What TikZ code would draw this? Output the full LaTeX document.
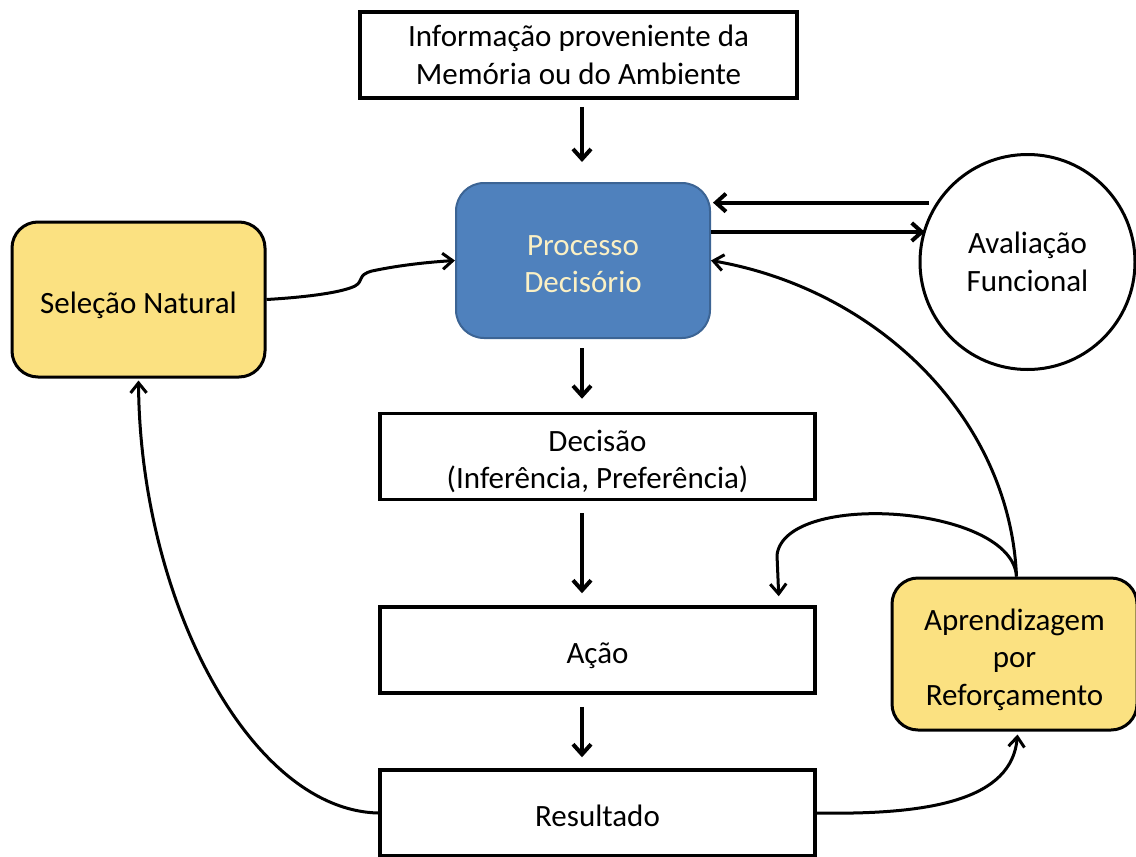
\documentclass[tikz,border=0pt]{standalone}
\usepackage{fontspec}
\setmainfont{Carlito}
\usetikzlibrary{arrows.meta,calc}
\definecolor{procfill}{HTML}{4F81BD}
\definecolor{procline}{HTML}{3C6494}
\definecolor{proctext}{HTML}{FBF0C4}
\definecolor{goldfill}{HTML}{FBE181}
\newcommand{\lift}[1]{\rule{0pt}{#1}}
\begin{document}
\begin{tikzpicture}[x=1pt,y=-1pt,
  txt/.style={font=\fontsize{31}{37.5}\selectfont, align=center, inner sep=0pt},
  oneline/.style={text height=27pt, text depth=0pt},
  box/.style={txt, draw, line width=3.5pt, minimum width=435pt, minimum height=86pt},
  rbox/.style={txt, draw, line width=3pt, rounded corners=26pt, fill=goldfill},
  arr/.style={line width=4pt, -{Straight Barb[length=10pt,width=18pt]}},
  carr/.style={line width=3pt, -{Straight Barb[length=10pt,width=16pt]}}]
\useasboundingbox (0,0) rectangle (1136,857);

% nodes
\node[box, minimum width=437pt] (info) at (578.5,55) {Informação proveniente da\\Memória ou do Ambiente};
\node[txt, draw=procline, line width=2pt, fill=procfill, text=proctext,
      rounded corners=28pt, minimum width=254pt, minimum height=155pt] (proc) at (583,260.5) {\lift{27pt}Processo\\Decisório};
\node[txt, draw, circle, line width=3pt, minimum size=215pt] (aval) at (1027.5,262) {Avaliação\\Funcional};
\node[rbox, oneline, minimum width=253pt, minimum height=155pt] (sel) at (138.5,299.5) {Seleção Natural};
\node[box] (dec) at (597.5,456.5) {\lift{31pt}Decisão\\(Inferência, Preferência)};
\node[box, oneline] (acao) at (597.5,650) {Ação};
\node[box, oneline] (res) at (597.5,813) {Resultado};
\node[rbox, minimum width=245pt, minimum height=152pt] (appr) at (1014.5,654) {\lift{33pt}Aprendizagem\\por\\Reforçamento};

% straight connectors down the middle
\draw[arr] ($(info.south -| proc.south)+(-1,7)$) -- ($(proc.north)+(-1,-20)$);
\draw[arr] ($(proc.south)+(-1,9)$) -- ($(dec.north -| proc.south)+(-1,-13)$);
\draw[arr] ($(dec.south -| proc.south)+(-1,12)$) -- ($(acao.north -| proc.south)+(-1,-12)$);
\draw[arr] ($(acao.south -| proc.south)+(-1,12)$) -- ($(res.north -| proc.south)+(-1,-11)$);

% exchange with the evaluation circle
\draw[arr] ($(aval.147)+(-7,0)$) -- ($(aval.147 -| proc.east)+(2,0)$);
\draw[arr] (proc.east |- aval.164) -- ($(aval.164)+(2,0)$);

% curved feedback connectors
\draw[carr] (sel.east) .. controls (310,297) and (343,292) .. (355,286)
            .. controls (364,281) and (357,275) .. (372,271)
            .. controls (400,265) and (430,262) .. (proc.west);
\draw[carr] ($(appr.north)+(2,0)$) .. controls (1010,420) and (880,290) .. (proc.east);
\draw[carr] ($(appr.north)+(2,0)$) .. controls (1012,505) and (785,490) .. (777,555)
            -- ($(acao.north east)+(-38,-9)$);
\draw[carr] (res.east) .. controls (930,815) and (1012,800) .. ($(appr.south)+(3,3)$);
\draw[carr] (res.west) .. controls (250,810) and (140,600) .. ($(sel.south)+(0,2)$);
\end{tikzpicture}
\end{document}
